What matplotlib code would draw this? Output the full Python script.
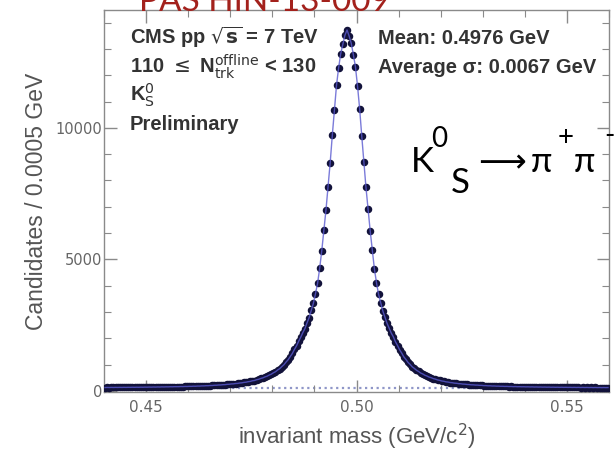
import numpy as np
import matplotlib
matplotlib.use("Agg")
import matplotlib.pyplot as plt

# K0s invariant mass histogram, bins of 0.0005 GeV from 0.44 to 0.56
bin_width = 0.0005
mass_lo = 0.44

# counts: left flank, peak bin, right flank
counts_left = [
    129, 134, 131, 135, 132, 136, 133, 137, 134, 138, 135, 139, 137, 141, 138,
    142, 139, 144, 141, 146, 143, 148, 145, 150, 147,
    152, 149, 155, 152, 157, 155, 160, 158, 163, 161,
    163, 168, 166, 172, 170, 176, 174, 181, 179, 186,
    185, 192, 192, 199, 199, 207, 208, 217, 218, 227,
    228, 238, 240, 251, 254, 266, 269, 283, 287, 302,
    308, 325, 333, 352, 362, 386, 397, 426, 443, 476,
    497, 534, 560, 604, 636, 690, 731, 795, 846, 925,
    995, 1096, 1185, 1306, 1424, 1577, 1714, 1887, 2043, 2218,
    2372, 2589, 2791, 3061, 3330, 3692, 4088, 4663, 5337, 6114,
    6885, 7766, 8683, 9718, 10682, 11620, 12280, 12822, 13180, 13520,
]
counts_peak = [13720]
counts_right = [
    13490, 13215, 12785, 12320, 11580, 10720, 9685, 8715, 7735, 6915,
    6090, 5365, 4640, 4112, 3671, 3352, 3043, 2809, 2574, 2389,
    2203, 2058, 1873, 1727, 1564, 1437, 1295, 1196, 1085, 1006,
    915, 856, 786, 740, 681, 645, 597, 567, 527, 504,
    469, 450, 419, 403, 379, 368, 346, 338, 320, 313,
    297, 292, 278, 274, 261, 258, 247, 244, 234, 232,
    223, 222, 213, 212, 203, 203, 195, 196, 188, 189,
    182, 183, 177, 178, 172, 174, 168, 170, 164, 167,
    161, 163, 158, 160, 155, 157, 152, 155, 149, 152,
    147, 150, 145, 148, 143, 146, 141, 144, 139, 142,
    137, 141, 136, 139, 135, 138, 133, 137, 132, 136,
    131, 135, 130, 134, 129, 133, 128, 132, 127, 131,
    126, 130, 126, 129,
]
bkg_level = 110

x_ticks = [0.45, 0.50, 0.55]
x_ticklabels = ["0.45", "0.50", "0.55"]
y_ticks = [0, 5000, 10000]
y_ticklabels = ["0", "5000", "10000"]

counts = np.array(counts_left + counts_peak + counts_right, dtype=float)
centers = mass_lo + bin_width * (np.arange(len(counts)) + 0.5)
errors = np.sqrt(counts)

W, H = 615, 453
fig = plt.figure(figsize=(W / 100, H / 100), dpi=100)
ax = fig.add_axes([104 / W, 61 / H, 505 / W, 382 / H])

ax.plot([centers[0], centers[-1]], [bkg_level, bkg_level], color="#8f96c8",
        lw=1.6, ls=(0, (1, 1.6)), zorder=1)
ax.errorbar(centers, counts, yerr=errors, fmt="o", ms=4.4, color="#12123a",
            ecolor="#12123a", elinewidth=0.8, capsize=0, zorder=3)
ax.plot(centers, counts, color="#5a5ad0", lw=1.0, alpha=0.8, zorder=4)

ax.set_xlim(0.4404, 0.55867)
ax.set_ylim(-40, 14480)

ax.set_xticks(x_ticks)
ax.set_xticklabels(x_ticklabels)
ax.set_yticks(y_ticks)
ax.set_yticklabels(y_ticklabels)
ax.set_xticks(np.arange(0.44, 0.561, 0.01), minor=True)
ax.set_yticks(np.arange(0, 14001, 1000), minor=True)

grey = "#8a8a8a"
for s in ax.spines.values():
    s.set_color(grey)
    s.set_linewidth(1.0)
ax.tick_params(which="both", direction="in", top=True, right=True, color=grey)
ax.tick_params(which="major", length=9, width=1.0)
ax.tick_params(which="minor", length=5, width=0.8)
ax.tick_params(axis="x", labelsize=11, labelcolor="#666666", pad=6)
ax.tick_params(axis="y", labelsize=10.5, labelcolor="#666666", pad=1)

ax.set_xlabel("invariant mass (GeV/c$^2$)", fontsize=16, color="#555555",
              family="Liberation Sans", labelpad=5)
ax.set_ylabel("Candidates / 0.0005 GeV", fontsize=16.5, color="#555555",
              family="Liberation Sans", labelpad=6)

def px(x, y):
    return x / W, 1 - y / H

cms = dict(fontsize=14.5, color="#333333", family="Liberation Sans",
           fontweight="bold", va="baseline")
fig.text(*px(130, 44), r"CMS pp $\sqrt{\mathbf{s}}$ = 7 TeV", **cms)
fig.text(*px(130, 73), r"110 $\leq$ N$_{\mathrm{trk}}^{\mathrm{offline}}$ < 130", **cms)
fig.text(*px(130, 101), r"K$^{0}_{\mathrm{S}}$", **cms)
fig.text(*px(130, 130), "Preliminary", **cms)
fig.text(*px(378, 44), "Mean: 0.4976 GeV", **cms)
fig.text(*px(378, 73), "Average σ: 0.0067 GeV", **cms)

big = dict(family="Lato", color="black", va="baseline")
fig.text(*px(411, 172), "K", fontsize=25, **big)
fig.text(*px(431, 147), "0", fontsize=20, **big)
fig.text(*px(451, 193), "S", fontsize=25, **big)
fig.text(*px(478, 172), "⟶", fontsize=24, family="DejaVu Sans", color="black",
         va="baseline")
fig.text(*px(531, 172), "π", fontsize=25, **big)
fig.text(*px(558, 146), "+", fontsize=20, **big)
fig.text(*px(574, 172), "π", fontsize=25, **big)
fig.text(*px(604, 144), "-", fontsize=20, **big)

fig.text(*px(139, 11), "PAS HIN-13-009", fontsize=24, family="Lato",
         color="#a3211c", va="baseline")

fig.savefig("out.png", dpi=100)
